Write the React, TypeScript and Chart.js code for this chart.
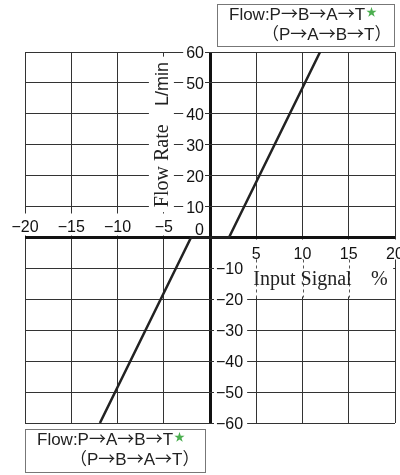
import React, { useEffect, useRef } from "react";
import { Chart, registerables } from "chart.js";

Chart.register(...registerables);

// ---- data ----
const inputSignal = [-11.9, -2.05, 2.05, 11.9];
const flowRate = [-60, 0, 0, 60];
const xTickValues = [-20, -15, -10, -5, 5, 10, 15, 20];
const yTickValues = [60, 50, 40, 30, 20, 10, -10, -20, -30, -40, -50, -60];
const xTitle = "Input Signal";
const xUnit = "%";
const yTitle = "Flow Rate";
const yUnit = "L/min";
const legendTop = ["Flow:P→B→A→T", "（P→A→B→T）"];
const legendBottom = ["Flow:P→A→B→T", "（P→B→A→T）"];

const SANS = '"Liberation Sans", "Noto Sans CJK JP", sans-serif';
const CJK = '"Noto Sans CJK JP", sans-serif';
const SERIF = '"Liberation Serif", "DejaVu Serif", serif';

const fmt = (v: number) => (v < 0 ? "\u2212" + Math.abs(v) : String(v));

// draw text with CJK font for arrows / full-width brackets
const drawMixed = (ctx: CanvasRenderingContext2D, text: string, x: number, y: number, size: number) => {
  let cx = x;
  ctx.textAlign = "left";
  for (const ch of Array.from(text)) {
    const wide = ch === "→" || ch === "（" || ch === "）";
    ctx.font = size + "px " + (wide ? CJK : SANS);
    ctx.fillText(ch, cx, y);
    cx += ctx.measureText(ch).width;
  }
  return cx;
};

const overlayPlugin = {
  id: "overlay",
  afterDraw(chart: any) {
    const ctx: CanvasRenderingContext2D = chart.ctx;
    const xs = chart.scales.x;
    const ys = chart.scales.y;
    const x0 = xs.getPixelForValue(0);
    const y0 = ys.getPixelForValue(0);
    ctx.save();

    // y tick labels
    ctx.font = "16px " + SANS;
    ctx.textBaseline = "alphabetic";
    for (const v of yTickValues) {
      const gy = ys.getPixelForValue(v);
      const t = fmt(v);
      const w = ctx.measureText(t).width;
      ctx.fillStyle = "#fff";
      if (v > 0) {
        ctx.fillRect(x0 - 6 - w - 3, gy - 8, w + 4, 16);
        ctx.fillStyle = "#111";
        ctx.textAlign = "right";
        ctx.fillText(t, x0 - 6, gy + 6);
      } else {
        ctx.fillRect(x0 + 4, gy - 8, w + 6, 16);
        ctx.fillStyle = "#111";
        ctx.textAlign = "left";
        ctx.fillText(t, x0 + 6, gy + 6);
      }
    }
    // zero label
    ctx.textAlign = "right";
    ctx.fillStyle = "#111";
    ctx.fillText("0", x0 - 6, y0 - 3);

    // x tick labels
    for (const v of xTickValues) {
      const gx = xs.getPixelForValue(v);
      const t = fmt(v);
      const w = ctx.measureText(t).width;
      ctx.fillStyle = "#fff";
      ctx.textAlign = "center";
      if (v < 0) {
        ctx.fillRect(gx - w / 2 - 2, y0 - 24, w + 4, 22);
        ctx.fillStyle = "#111";
        ctx.fillText(t, gx, y0 - 6);
      } else {
        ctx.fillRect(gx - w / 2 - 2, y0 + 2, w + 4, 20);
        ctx.fillStyle = "#111";
        ctx.fillText(t, gx, y0 + 21);
      }
    }

    // x title band
    const bandL = xs.getPixelForValue(3.9);
    const bandR = xs.getPixelForValue(19.8);
    ctx.fillStyle = "#fff";
    ctx.fillRect(bandL, y0 + 22, bandR - bandL, 37);
    ctx.strokeStyle = "#555";
    ctx.lineWidth = 1;
    ctx.setLineDash([3, 3]);
    for (const v of [5, 10, 15]) {
      const gx = Math.round(xs.getPixelForValue(v)) + 0.5;
      ctx.beginPath();
      ctx.moveTo(gx, y0 + 22);
      ctx.lineTo(gx, y0 + 60);
      ctx.stroke();
    }
    ctx.setLineDash([]);
    ctx.fillStyle = "#222";
    ctx.font = "20px " + SERIF;
    ctx.textAlign = "center";
    ctx.fillText(xTitle, xs.getPixelForValue(10), y0 + 47);
    ctx.fillText(xUnit, xs.getPixelForValue(18.3), y0 + 47);

    // y title band
    const tx = xs.getPixelForValue(-5.2);
    ctx.fillStyle = "#fff";
    ctx.fillRect(tx - 13, ys.getPixelForValue(58.5), 25, ys.getPixelForValue(8.2) - ys.getPixelForValue(58.5));
    ctx.save();
    ctx.translate(tx + 6, ys.getPixelForValue(9.8));
    ctx.rotate(-Math.PI / 2);
    ctx.textAlign = "left";
    ctx.fillStyle = "#222";
    ctx.font = "20px " + SERIF;
    ctx.fillText(yTitle, 0, 0);
    ctx.font = "18px " + SANS;
    ctx.fillText(yUnit, ys.getPixelForValue(9.8) - ys.getPixelForValue(42.5), 0);
    ctx.restore();

    // legend boxes
    const drawBox = (bx: number, by: number, bw: number, bh: number, lines: string[]) => {
      ctx.fillStyle = "#fff";
      ctx.fillRect(bx, by, bw, bh);
      ctx.strokeStyle = "#777";
      ctx.lineWidth = 1;
      ctx.strokeRect(bx + 0.5, by + 0.5, bw, bh);
      ctx.fillStyle = "#222";
      const end = drawMixed(ctx, lines[0], bx + 12, by + 16, 17);
      drawMixed(ctx, lines[1], bx + 45, by + 35.5, 17);
      ctx.fillStyle = "#4caf50";
      ctx.font = "11px " + SANS;
      ctx.textAlign = "left";
      ctx.fillText("★", end + 1, by + 12);
    };
    drawBox(217, 4, 177, 42, legendTop);
    drawBox(25, 429, 180, 43, legendBottom);

    ctx.restore();
  },
};

export default function App() {
  const ref = useRef<HTMLCanvasElement>(null);
  useEffect(() => {
    if (!ref.current) return;
    const gridColor = (c: any) => (c.tick && c.tick.value === 0 ? "#111" : "#333");
    const gridWidth = (c: any) => (c.tick && c.tick.value === 0 ? 3 : 1);
    const chart = new Chart(ref.current, {
      type: "scatter",
      data: {
        datasets: [
          {
            data: inputSignal.map((x, i) => ({ x, y: flowRate[i] })),
            showLine: true,
            borderColor: "#222",
            borderWidth: 2.5,
            pointRadius: 0,
            fill: false,
          },
        ],
      },
      options: {
        animation: false,
        responsive: false,
        devicePixelRatio: 1,
        layout: { padding: { left: 25, right: 5, top: 52, bottom: 52 } },
        plugins: { legend: { display: false }, tooltip: { enabled: false } },
        scales: {
          x: {
            type: "linear",
            min: -20,
            max: 20,
            ticks: { display: false, stepSize: 5 },
            grid: { color: gridColor, lineWidth: gridWidth, drawTicks: false },
            border: { display: false },
          },
          y: {
            type: "linear",
            min: -60,
            max: 60,
            ticks: { display: false, stepSize: 10 },
            grid: { color: gridColor, lineWidth: gridWidth, drawTicks: false },
            border: { display: false },
          },
        },
      },
      plugins: [overlayPlugin],
    } as any);
    return () => chart.destroy();
  }, []);
  return (
    <div style={{ position: "absolute", left: 0, top: 0, width: 400, height: 475, background: "#fff" }}>
      <canvas ref={ref} width={400} height={475} />
    </div>
  );
}
